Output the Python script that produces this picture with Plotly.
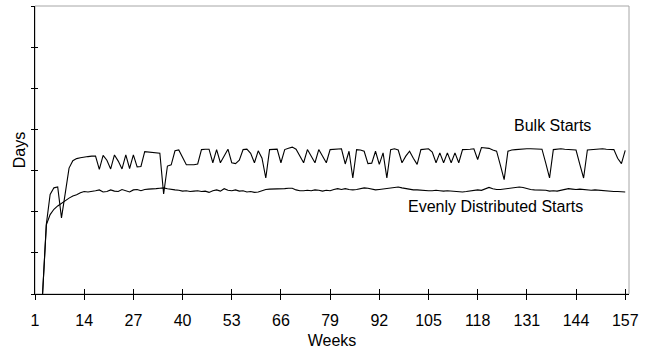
import plotly.graph_objects as go

weeks = list(range(1, 158))

bulk_starts = [
    None, None, 0, 17.0, 24.2, 25.8, 26.0, 18.5, 24.5, 30.6,
    32.4, 32.9, 33.1, 33.3, 33.4, 33.5, 33.5, 30.3, 33.7, 32.5,
    30.4, 33.8, 32.3, 30.4, 33.8, 30.5, 33.8, 30.9, 31.0, 34.6,
    34.5, 34.4, 34.3, 34.2, 24.3, 31.1, 31.4, 34.8, 35.0, 33.2,
    31.4, 31.4, 31.4, 31.6, 35.1, 35.2, 35.2, 31.9, 35.1, 31.9,
    33.5, 35.2, 31.9, 31.7, 32.5, 35.1, 35.2, 34.2, 31.9, 34.8,
    33.0, 28.2, 35.1, 35.1, 35.2, 31.9, 35.1, 35.4, 35.7, 35.2,
    33.5, 31.9, 35.1, 33.5, 31.9, 35.1, 33.5, 31.9, 35.1, 35.2,
    35.2, 35.3, 31.6, 34.7, 28.2, 35.1, 35.0, 34.7, 31.7, 31.8,
    34.7, 31.5, 34.3, 28.2, 35.1, 35.3, 35.0, 31.9, 33.5, 34.7,
    33.0, 31.5, 35.1, 35.2, 35.3, 34.5, 31.9, 34.3, 31.9, 34.3,
    31.9, 34.3, 31.9, 35.1, 35.1, 35.2, 35.3, 32.7, 35.6, 35.5,
    35.4, 35.0, 34.7, 31.3, 27.8, 34.7, 35.0, 35.1, 35.2, 35.2,
    35.3, 35.3, 35.3, 35.3, 35.2, 31.8, 28.2, 35.1, 35.2, 35.3,
    35.2, 35.1, 35.1, 35.0, 31.5, 28.2, 35.0, 35.1, 35.2, 35.3,
    35.3, 35.2, 35.1, 35.1, 33.0, 31.7, 34.9,
]

evenly_starts = [
    None, None, 0, 16.8, 19.3, 20.6, 21.4, 22.1, 22.8, 23.3,
    23.8, 24.1, 24.6, 24.9, 24.8, 24.9, 25.1, 25.3, 24.8, 24.9,
    25.3, 25.0, 24.9, 25.4, 25.1, 24.8, 25.3, 25.4, 25.1, 25.4,
    25.5, 25.5, 25.6, 25.7, 25.8, 25.6, 25.4, 25.3, 25.2, 25.0,
    25.1, 24.9, 25.0, 25.1, 24.9, 25.0, 24.7, 25.1, 25.3, 25.0,
    25.6, 25.2, 25.1, 25.3, 25.0, 25.1, 24.8, 24.9, 24.7, 24.8,
    25.1, 25.4, 25.5, 25.5, 25.5, 25.6, 25.6, 25.7, 25.7, 25.3,
    25.1, 25.1, 25.2, 25.1, 25.3, 25.2, 25.0, 25.2, 25.1, 25.4,
    25.6, 25.4, 25.6, 25.4, 25.3, 25.4, 25.6, 25.8, 25.7, 25.5,
    25.3, 25.4, 25.5, 25.7, 25.8, 25.9, 26.0, 25.8, 25.6, 25.5,
    25.3, 25.3, 25.2, 25.2, 25.1, 25.1, 25.2, 25.1, 25.0, 25.1,
    25.0, 24.9, 24.9, 24.8, 24.9, 25.0, 25.1, 25.3, 25.2, 25.6,
    25.9, 25.6, 25.4, 25.4, 25.5, 25.6, 25.8, 25.9, 26.0, 25.9,
    25.6, 25.4, 25.3, 25.3, 25.2, 25.2, 25.0, 25.1, 25.0, 25.2,
    25.4, 25.6, 25.5, 25.4, 25.5, 25.4, 25.3, 25.2, 25.3, 25.2,
    25.1, 25.0, 25.0, 24.9, 24.9, 24.8, 24.8,
]

x_tick_vals = [1, 14, 27, 40, 53, 66, 79, 92, 105, 118, 131, 144, 157]
x_tick_text = [str(v) for v in x_tick_vals]
y_tick_vals = [0, 10, 20, 30, 40, 50, 60, 70]

FONT = "Liberation Sans, Arial, sans-serif"
X_RANGE = [1, 158]
Y_RANGE = [0, 70]

fig = go.Figure()
fig.add_trace(go.Scatter(x=weeks, y=evenly_starts, mode="lines",
                         line=dict(color="#000000", width=1.1),
                         showlegend=False, hoverinfo="skip"))
fig.add_trace(go.Scatter(x=weeks, y=bulk_starts, mode="lines",
                         line=dict(color="#000000", width=1.1),
                         showlegend=False, hoverinfo="skip"))
# helper trace so the overlay axes (inner half of crossing ticks) are drawn
fig.add_trace(go.Scatter(x=[X_RANGE[0]], y=[Y_RANGE[0]], xaxis="x2", yaxis="y2",
                         mode="markers", marker=dict(size=0, opacity=0),
                         showlegend=False, hoverinfo="skip"))

fig.update_layout(
    width=655, height=355,
    margin=dict(l=35, r=26, t=6, b=61),
    paper_bgcolor="white", plot_bgcolor="white",
    font=dict(family=FONT, size=16, color="#000000"),
    xaxis=dict(range=X_RANGE, tickmode="array", tickvals=x_tick_vals,
               ticktext=x_tick_text, ticks="outside", ticklen=5,
               tickcolor="#000000", tickwidth=1,
               showline=True, linecolor="#000000", linewidth=1,
               showgrid=False, zeroline=False,
               ticklabelstandoff=7,
               tickfont=dict(family=FONT, size=16),
               title=dict(text="Weeks", standoff=6,
                          font=dict(family=FONT, size=16))),
    yaxis=dict(range=Y_RANGE, tickmode="array", tickvals=y_tick_vals,
               ticks="outside", ticklen=3, tickcolor="#000000", tickwidth=1,
               showticklabels=False,
               showline=True, linecolor="#000000", linewidth=1,
               showgrid=False, zeroline=False,
               title=dict(text="Days", standoff=1,
                          font=dict(family=FONT, size=16))),
    xaxis2=dict(range=X_RANGE, overlaying="x", anchor="y2",
                tickmode="array", tickvals=x_tick_vals, ticks="inside",
                ticklen=5, tickcolor="#000000", tickwidth=1,
                showticklabels=False, showline=False, showgrid=False,
                zeroline=False, side="bottom"),
    yaxis2=dict(range=Y_RANGE, overlaying="y", anchor="x2",
                tickmode="array", tickvals=y_tick_vals, ticks="inside",
                ticklen=3, tickcolor="#000000", tickwidth=1,
                showticklabels=False, showline=False, showgrid=False,
                zeroline=False, side="left"),
    shapes=[dict(type="rect", xref="paper", yref="paper", x0=0, x1=1, y0=0, y1=1,
                 line=dict(color="#a6a6a6", width=1), layer="below")],
    annotations=[
        dict(x=127.1, y=40.9, xref="x", yref="y", text="Bulk Starts",
             showarrow=False, xanchor="left", yanchor="middle",
             font=dict(family=FONT, size=16, color="#000000")),
        dict(x=99.1, y=21.3, xref="x", yref="y", text="Evenly Distributed Starts",
             showarrow=False, xanchor="left", yanchor="middle",
             font=dict(family=FONT, size=16, color="#000000")),
    ],
)

fig.write_html("out.html")
